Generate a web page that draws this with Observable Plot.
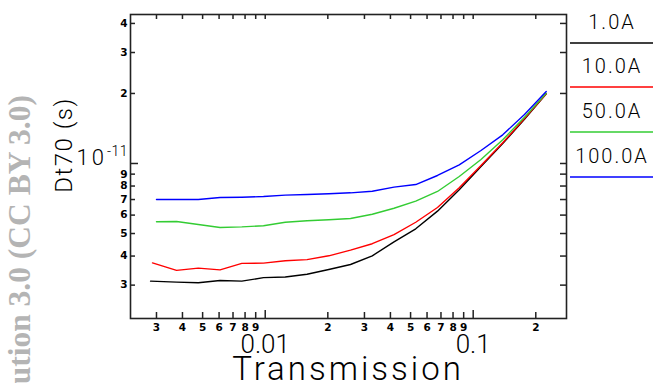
<!DOCTYPE html>
<html><head><meta charset="utf-8">
<script src="https://cdn.jsdelivr.net/npm/d3@7"></script>
<script src="https://cdn.jsdelivr.net/npm/@observablehq/plot@0.6"></script>
<style>
body{margin:0;background:#fff;}
#chart{position:relative;width:653px;height:383px;overflow:hidden;}
</style></head><body><div id="chart"></div>
<script>
// Transmission sample points (shared by all series after the first point)
const transmission = [0.003747, 0.004766, 0.006065, 0.007716, 0.009813, 0.012485, 0.015887, 0.020212, 0.025713, 0.032711, 0.041616, 0.052943, 0.067352, 0.085674, 0.10902, 0.13871, 0.17646, 0.22449];
// first sample point of each series
const startTransmission = [0.00281, 0.00287, 0.00300, 0.00300];
const seriesNames = ["1.0A", "10.0A", "50.0A", "100.0A"];
const seriesColors = ["#000000", "#ff0000", "#33cc33", "#0000ff"];
// Dt70 values, in units of 1e-12 s
const dt_1A   = [3.12, 3.09, 3.07, 3.14, 3.12, 3.23, 3.25, 3.34, 3.50, 3.68, 4.01, 4.60, 5.24, 6.24, 7.71, 9.71, 12.19, 15.50, 19.94];
const dt_10A  = [3.74, 3.47, 3.55, 3.49, 3.72, 3.73, 3.82, 3.86, 4.01, 4.24, 4.52, 4.95, 5.59, 6.47, 7.86, 9.80, 12.27, 15.61, 19.94];
const dt_50A  = [5.62, 5.63, 5.47, 5.31, 5.34, 5.40, 5.59, 5.67, 5.73, 5.80, 6.05, 6.42, 6.89, 7.58, 8.79, 10.40, 12.65, 15.81, 20.06];
const dt_100A = [7.00, 7.00, 7.00, 7.14, 7.16, 7.21, 7.31, 7.36, 7.41, 7.48, 7.60, 7.91, 8.12, 8.88, 9.87, 11.37, 13.28, 16.24, 20.40];
const dtSeries = [dt_1A, dt_10A, dt_50A, dt_100A];

// axis ticks and labels
const xMinorTicks  = [0.003, 0.004, 0.005, 0.006, 0.007, 0.008, 0.009, 0.02, 0.03, 0.04, 0.05, 0.06, 0.07, 0.08, 0.09, 0.2];
const xMinorLabels = ["3", "4", "5", "6", "7", "8", "9", "2", "3", "4", "5", "6", "7", "8", "9", "2"];
const xMajorTicks  = [0.01, 0.1];
const xMajorLabels = ["0.01", "0.1"];
const yMinorTicks  = [3, 4, 5, 6, 7, 8, 9, 20, 30, 40];
const yMinorLabels = ["3", "4", "5", "6", "7", "8", "9", "2", "3", "4"];
const yMajorTicks  = [10];
const yMajorBase = "10", yMajorExp = "-11";
const xTitle = "Transmission", yTitle = "Dt70 (s)";
const watermark = "Creative Commons Attribution 3.0 (CC BY 3.0)";

const W = 653, H = 383, mL = 130, mR = 87, mT = 14, mB = 65;
const plotW = W - mL - mR, plotH = H - mT - mB;
const thin = "Roboto, 'DejaVu Sans', sans-serif";
const thinW = 300;

const rows = [];
seriesNames.forEach((name, i) => {
  const ts = [startTransmission[i], ...transmission];
  dtSeries[i].forEach((v, j) => rows.push({series: name, t: ts[j], v}));
});
const xAll = [...xMinorTicks, ...xMajorTicks];
const yAll = [...yMinorTicks, ...yMajorTicks];
const ink = "#222";

const plot = Plot.plot({
  width: W, height: H,
  marginLeft: mL, marginRight: mR, marginTop: mT, marginBottom: mB,
  x: {type: "log", domain: [0.00225, 0.281], axis: null},
  y: {type: "log", domain: [2.156, 43.7], axis: null},
  color: {domain: seriesNames, range: seriesColors},
  style: {background: "#fff", fontFamily: "'DejaVu Sans', sans-serif", overflow: "visible", color: "#000"},
  marks: [
    Plot.line(rows, {x: "t", y: "v", z: "series", stroke: "series", strokeWidth: 1.4}),
    Plot.frame({stroke: ink, strokeWidth: 1.6}),
    Plot.tickX(xMinorTicks, {x: d => d, insetTop: plotH - 6, stroke: ink, strokeWidth: 1.5}),
    Plot.tickX(xMajorTicks, {x: d => d, insetTop: plotH - 8, stroke: ink, strokeWidth: 1.5}),
    Plot.tickX(xAll, {x: d => d, insetBottom: plotH - 5, stroke: ink, strokeWidth: 1.5}),
    Plot.tickY(yMinorTicks, {y: d => d, insetRight: plotW - 5, stroke: ink, strokeWidth: 1.5}),
    Plot.tickY(yMajorTicks, {y: d => d, insetRight: plotW - 8, stroke: ink, strokeWidth: 1.5}),
    Plot.tickY(yAll, {y: d => d, insetLeft: plotW - 6, stroke: ink, strokeWidth: 1.5}),
    Plot.text(xMinorTicks, {x: d => d, frameAnchor: "bottom", dy: 9, text: (d, i) => xMinorLabels[i],
      fontSize: 10.5, fontWeight: "bold", lineAnchor: "middle"}),
    Plot.text(xMajorTicks, {x: d => d, frameAnchor: "bottom", dy: 26, text: (d, i) => xMajorLabels[i],
      fontSize: 26, fontWeight: thinW, fontFamily: thin, lineAnchor: "middle", letterSpacing: 1}),
    Plot.text(yMinorTicks, {y: d => d, frameAnchor: "left", dx: -3, textAnchor: "end", text: (d, i) => yMinorLabels[i],
      fontSize: 10.5, fontWeight: "bold", lineAnchor: "middle"})
  ]
});
document.getElementById("chart").appendChild(plot);

const svg = d3.select(plot);
const ys = plot.scale("y");
const yMaj = ys.apply(yMajorTicks[0]);
// 10^-11 label
const t10 = svg.append("text").attr("x", mL - 2).attr("y", yMaj + 2).attr("text-anchor", "end")
  .attr("font-family", thin).attr("font-weight", thinW).attr("font-size", 22);
t10.append("tspan").attr("letter-spacing", 3).text(yMajorBase);
t10.append("tspan").attr("dy", -9).attr("font-size", 14).attr("letter-spacing", 0.5).text(yMajorExp);

// axis titles
svg.append("text").attr("x", mL + plotW / 2).attr("y", 380).attr("text-anchor", "middle")
  .attr("font-family", thin).attr("font-weight", thinW).attr("font-size", 33).attr("letter-spacing", 3)
  .text(xTitle);
svg.append("text").attr("transform", `translate(72,145) rotate(-90)`).attr("text-anchor", "middle")
  .attr("font-family", thin).attr("font-weight", thinW).attr("font-size", 24).attr("letter-spacing", 1.5)
  .text(yTitle);

// legend
const legY = [22, 66, 111, 156];
seriesNames.forEach((name, i) => {
  svg.append("text").attr("x", 612).attr("y", legY[i]).attr("dy", "0.36em").attr("text-anchor", "middle")
    .attr("font-family", thin).attr("font-weight", thinW).attr("font-size", 20).attr("letter-spacing", 2)
    .text(name);
  svg.append("line").attr("x1", 570).attr("x2", 653).attr("y1", legY[i] + 21).attr("y2", legY[i] + 21)
    .attr("stroke", seriesColors[i]).attr("stroke-width", 1.5);
});

// watermark
svg.append("text").attr("transform", `translate(30,95) rotate(-90)`).attr("text-anchor", "end")
  .attr("font-family", "'Liberation Serif', 'DejaVu Serif', serif").attr("font-weight", "bold")
  .attr("font-size", 31.5).attr("fill", "#b4b4b4").text(watermark);
</script></body></html>
